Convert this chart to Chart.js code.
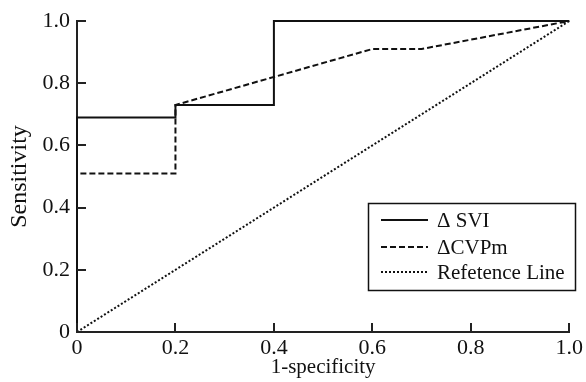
<!DOCTYPE html>
<html>
<head>
<meta charset="utf-8">
<script src="https://cdn.jsdelivr.net/npm/chart.js@4/dist/chart.umd.min.js"></script>
<style>
  html, body { margin: 0; padding: 0; background: #fff; }
  #wrap { width: 586px; height: 382px; }
</style>
</head>
<body>
<div id="wrap"><canvas id="roc" width="586" height="382"></canvas></div>
<script>
// ROC curve points (1-specificity, sensitivity)
var sviX = [0, 0, 0.2, 0.2, 0.4, 0.4, 1.0];
var sviY = [0, 0.69, 0.69, 0.73, 0.73, 1.0, 1.0];
var cvpX = [0, 0, 0.2, 0.2, 0.6, 0.7, 1.0];
var cvpY = [0, 0.51, 0.51, 0.73, 0.91, 0.91, 1.0];
var refX = [0, 1.0];
var refY = [0, 1.0];
var tickValues = [0, 0.2, 0.4, 0.6, 0.8, 1.0];
var seriesNames = ["\u0394 SVI", "\u0394CVPm", "Refetence Line"];

var FONT = "'Liberation Serif', 'Times New Roman', serif";

function pts(xs, ys) {
  return xs.map(function (x, i) { return { x: x, y: ys[i] }; });
}

function fmt(v) {
  return v === 0 ? "0" : v.toFixed(1);
}

// draw inward tick marks and the boxed legend
var decorations = {
  id: 'decorations',
  afterDraw: function (chart) {
    var ctx = chart.ctx;
    var ca = chart.chartArea;
    var xs = chart.scales.x, ys = chart.scales.y;
    ctx.save();
    ctx.strokeStyle = '#222';
    ctx.lineWidth = 2;
    tickValues.forEach(function (v) {
      var px = Math.round(xs.getPixelForValue(v));
      ctx.beginPath();
      ctx.moveTo(px, ca.bottom);
      ctx.lineTo(px, ca.bottom - 9);
      ctx.stroke();
      var py = Math.round(ys.getPixelForValue(v));
      ctx.beginPath();
      ctx.moveTo(ca.left, py);
      ctx.lineTo(ca.left + 9, py);
      ctx.stroke();
    });

    // legend box
    var bx = 368, by = 203, bw = 207, bh = 87;
    ctx.lineWidth = 1.5;
    ctx.strokeStyle = '#111';
    ctx.strokeRect(bx + 0.5, by + 0.5, bw, bh);
    ctx.font = '21px ' + FONT;
    ctx.fillStyle = '#111';
    ctx.textBaseline = 'middle';
    var rows = [220, 247, 272];
    chart.data.datasets.forEach(function (ds, i) {
      ctx.beginPath();
      ctx.lineWidth = ds.borderWidth;
      ctx.setLineDash(ds.borderDash || []);
      ctx.moveTo(381, rows[i]);
      ctx.lineTo(428, rows[i]);
      ctx.stroke();
      ctx.setLineDash([]);
      ctx.fillText(ds.label, 437, rows[i] + 1);
    });
    ctx.restore();
  }
};

new Chart(document.getElementById('roc'), {
  type: 'line',
  data: {
    datasets: [
      { label: seriesNames[0], data: pts(sviX, sviY), borderColor: '#111', borderWidth: 2, borderDash: [] },
      { label: seriesNames[1], data: pts(cvpX, cvpY), borderColor: '#111', borderWidth: 2, borderDash: [6, 3] },
      { label: seriesNames[2], data: pts(refX, refY), borderColor: '#111', borderWidth: 2, borderDash: [2, 2] }
    ]
  },
  options: {
    responsive: false,
    animation: false,
    clip: false,
    layout: { padding: { top: 21, right: 13, left: 0, bottom: 0 } },
    elements: { point: { radius: 0 }, line: { tension: 0, fill: false } },
    plugins: { legend: { display: false }, tooltip: { enabled: false } },
    scales: {
      x: {
        type: 'linear',
        min: 0, max: 1,
        afterBuildTicks: function (s) { s.ticks = tickValues.map(function (v) { return { value: v }; }); },
        afterFit: function (s) { s.height = 50; },
        grid: { display: false, drawTicks: false },
        border: { display: true, color: '#222', width: 2 },
        ticks: {
          color: '#111', padding: 3, maxRotation: 0,
          font: { family: FONT, size: 22 },
          callback: function (v) { return fmt(v); }
        },
        title: {
          display: true, text: '1-specificity', color: '#111',
          font: { family: FONT, size: 21 }, padding: { top: 0, bottom: 2 }
        }
      },
      y: {
        type: 'linear',
        min: 0, max: 1,
        afterBuildTicks: function (s) { s.ticks = tickValues.map(function (v) { return { value: v }; }); },
        afterFit: function (s) { s.width = 77; },
        grid: { display: false, drawTicks: false },
        border: { display: true, color: '#222', width: 2 },
        ticks: {
          color: '#111', padding: 7,
          font: { family: FONT, size: 22 },
          callback: function (v) { return fmt(v); }
        },
        title: {
          display: true, text: 'Sensitivity', color: '#111',
          font: { family: FONT, size: 24 }, padding: { top: 5, bottom: 0 }
        }
      }
    }
  },
  plugins: [decorations]
});
</script>
</body>
</html>
